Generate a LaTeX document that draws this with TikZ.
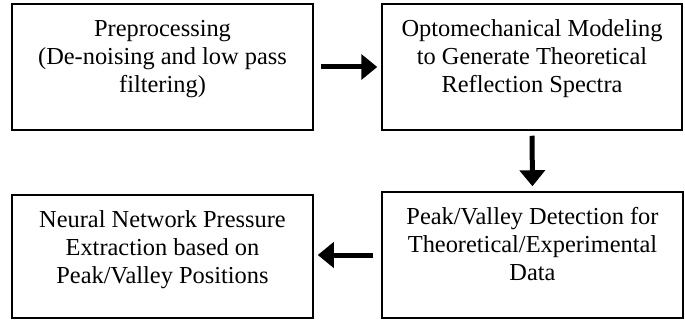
\documentclass[tikz,border=0pt]{standalone}
\usepackage{fontspec}
\setmainfont{Liberation Serif}
\usetikzlibrary{arrows.meta}
\tikzset{
  stagebox/.style={draw, line width=1.5pt, minimum width=301pt, minimum height=126pt, inner sep=0pt},
  stagetext/.style={anchor=north, align=center, inner sep=0pt, font=\fontsize{24.4}{28}\selectfont},
  flow/.style={line width=5pt, -{Triangle[length=16pt,width=25pt]}}
}
\begin{document}
\begin{tikzpicture}[x=1pt,y=1pt]
  \useasboundingbox (0,0) rectangle (685,322);
  % processing stages
  \node[stagebox] (b1) at (162.5,255) {};
  \node[stagebox, minimum width=300pt] (b2) at (532,255) {};
  \node[stagebox] (b3) at (532.5,67) {};
  \node[stagebox, minimum height=123pt] (b4) at (162.5,65.5) {};
  % stage descriptions
  \node[stagetext] (t1) at ([yshift=-13.5pt]b1.north) {\strut Preprocessing\\(De-noising and low pass\\filtering)};
  \node[stagetext] (t2) at ([yshift=-13.5pt]b2.north) {\strut Optomechanical Modeling\\to Generate Theoretical\\Reflection Spectra};
  \node[stagetext] (t3) at ([yshift=-13.5pt]b3.north) {\strut Peak/Valley Detection for\\Theoretical/Experimental\\Data};
  \node[stagetext] (t4) at ([yshift=-13.5pt]b4.north) {\strut Neural Network Pressure\\Extraction based on\\Peak/Valley Positions};
  % flow between stages
  \draw[flow, shorten <=7pt, shorten >=4pt] (b1.east) -- (b2.west);
  \draw[flow, shorten <=5pt, shorten >=5pt] (b2.south) -- (b3.north);
  \draw[flow, shorten <=8pt, shorten >=4pt] (b3.west) -- (b4.east |- b3.west);
\end{tikzpicture}
\end{document}
